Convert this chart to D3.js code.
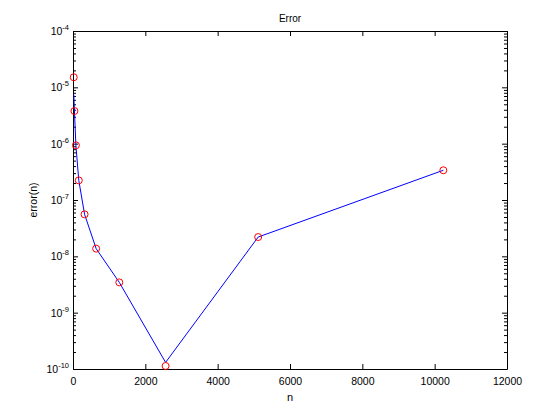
<!DOCTYPE html>
<html>
<head>
<meta charset="utf-8">
<script src="https://cdn.jsdelivr.net/npm/d3@7"></script>
<style>
  html, body { margin: 0; padding: 0; background: #fff; }
  svg { display: block; font-family: "Liberation Sans", Arial, Helvetica, sans-serif; }
</style>
</head>
<body>
<svg id="chart" width="560" height="420"></svg>
<script>
// ---- data ----
const nValues = [20, 40, 80, 160, 320, 640, 1280, 2560, 5120, 10240];
const errorMarkers = [1.51e-5, 3.8e-6, 9.35e-7, 2.23e-7, 5.57e-8, 1.37e-8, 3.45e-9, 1.13e-10, 2.2e-8, 3.37e-7];
const errorLine = [7.5e-6, 3.8e-6, 9.35e-7, 2.23e-7, 5.57e-8, 1.37e-8, 3.45e-9, 1.31e-10, 2.2e-8, 3.37e-7];
const xTicks = [0, 2000, 4000, 6000, 8000, 10000, 12000];
const yExponents = [-10, -9, -8, -7, -6, -5, -4];
const titleText = "Error";
const xLabelText = "n";
const yLabelText = "error(n)";

// ---- layout ----
const L = 73, R = 507, T = 31, B = 369;
const svg = d3.select("#chart");
const x = d3.scaleLinear().domain([0, 12000]).range([L, R]);
const y = d3.scaleLog().domain([1e-10, 1e-4]).range([B, T]);

const majors = yExponents.map(e => Math.pow(10, e));
const minors = [];
yExponents.slice(0, -1).forEach(e => {
  for (let k = 2; k <= 9; k++) minors.push(k * Math.pow(10, e));
});

// white plot area
svg.append("rect").attr("x", L).attr("y", T).attr("width", R - L).attr("height", B - T)
  .attr("fill", "#fff").attr("stroke", "none");

function styleAxis(g) {
  g.selectAll("path").attr("stroke", "#000").attr("stroke-width", 1);
  g.selectAll("line").attr("stroke", "#000").attr("stroke-width", 1);
  g.attr("font-size", null).attr("font-family", null);
}

// Left axis (major + minor ticks inward)
svg.append("g").attr("transform", `translate(${L},0)`)
  .call(d3.axisLeft(y).tickValues(majors).tickSizeInner(-5).tickSizeOuter(0).tickFormat(""))
  .call(styleAxis);
svg.append("g").attr("transform", `translate(${L},0)`)
  .call(d3.axisLeft(y).tickValues(minors).tickSizeInner(-3).tickSizeOuter(0).tickFormat(""))
  .call(styleAxis).call(g => g.select("path").remove());
// Right axis
svg.append("g").attr("transform", `translate(${R},0)`)
  .call(d3.axisRight(y).tickValues(majors).tickSizeInner(-5).tickSizeOuter(0).tickFormat(""))
  .call(styleAxis);
svg.append("g").attr("transform", `translate(${R},0)`)
  .call(d3.axisRight(y).tickValues(minors).tickSizeInner(-3).tickSizeOuter(0).tickFormat(""))
  .call(styleAxis).call(g => g.select("path").remove());
// Bottom axis
const bottom = svg.append("g").attr("transform", `translate(0,${B})`)
  .call(d3.axisBottom(x).tickValues(xTicks).tickSizeInner(-5).tickSizeOuter(0).tickPadding(9).tickFormat(d3.format("d")))
  .call(styleAxis);
bottom.selectAll("text").attr("font-size", "10.5px").attr("fill", "#000");
// Top axis
svg.append("g").attr("transform", `translate(0,${T})`)
  .call(d3.axisTop(x).tickValues(xTicks).tickSizeInner(-5).tickSizeOuter(0).tickFormat(""))
  .call(styleAxis);

// y tick labels with superscripts
const yl = svg.append("g").selectAll("text").data(yExponents).join("text")
  .attr("x", L - 4).attr("y", d => y(Math.pow(10, d)) + 4)
  .attr("text-anchor", "end").attr("font-size", "10.5px").attr("fill", "#000");
yl.append("tspan").text("10");
yl.append("tspan").attr("dy", -5).attr("font-size", "7.5px").text(d => String(d).replace("-", "-"));

// line
svg.append("path")
  .datum(nValues.map((n, i) => [n, errorLine[i]]))
  .attr("fill", "none").attr("stroke", "#0000ff").attr("stroke-width", 1)
  .attr("d", d3.line().x(d => x(d[0])).y(d => y(d[1])));

// markers
svg.append("g").selectAll("circle")
  .data(nValues.map((n, i) => [n, errorMarkers[i]]))
  .join("circle")
  .attr("cx", d => x(d[0])).attr("cy", d => y(d[1])).attr("r", 3.5)
  .attr("fill", "none").attr("stroke", "#ff0000").attr("stroke-width", 1);

// titles
svg.append("text").attr("x", (L + R) / 2).attr("y", 22).attr("text-anchor", "middle")
  .attr("font-size", "10px").attr("fill", "#000").text(titleText);
svg.append("text").attr("x", (L + R) / 2).attr("y", 401).attr("text-anchor", "middle")
  .attr("font-size", "11px").attr("fill", "#000").text(xLabelText);
svg.append("text").attr("transform", "translate(37,200) rotate(-90)").attr("text-anchor", "middle")
  .attr("font-size", "10.5px").attr("fill", "#000").text(yLabelText);
</script>
</body>
</html>
